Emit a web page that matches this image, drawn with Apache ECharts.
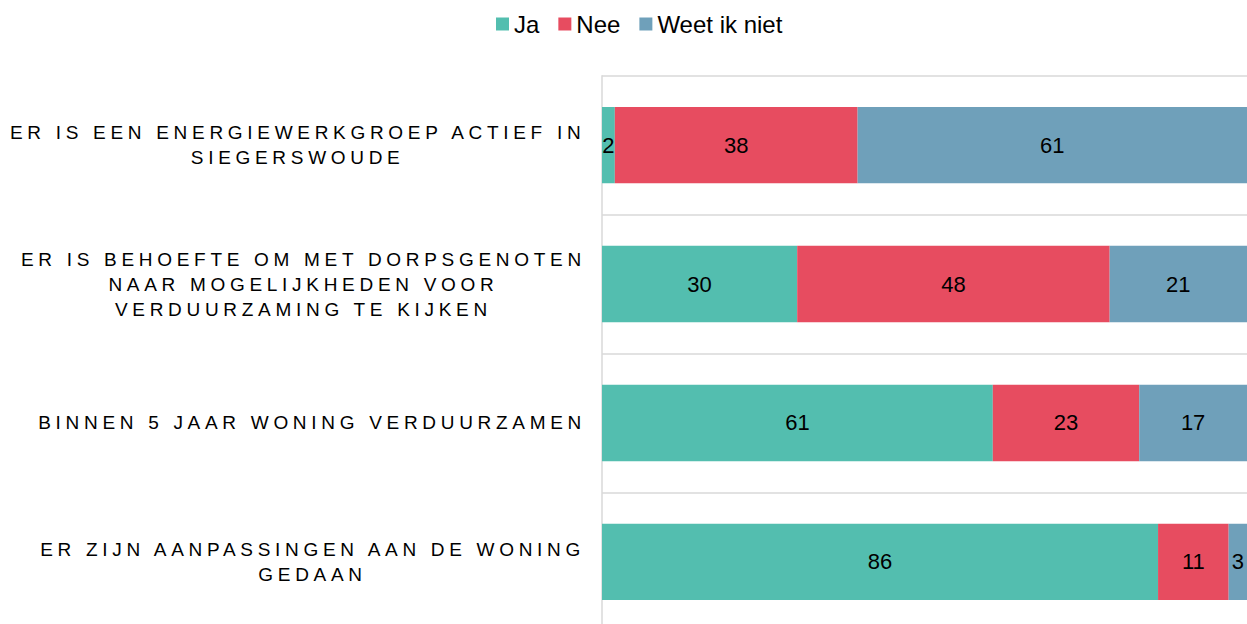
<!DOCTYPE html>
<html>
<head>
<meta charset="utf-8">
<script src="https://cdn.jsdelivr.net/npm/echarts@6/dist/echarts.min.js"></script>
<style>
html,body{margin:0;padding:0;background:#fff;overflow:hidden;}
#chart{width:1247px;height:640px;}
</style>
</head>
<body>
<div id="chart"></div>
<script>
var categories = [
  'ER IS EEN ENERGIEWERKGROEP ACTIEF IN\nSIEGERSWOUDE',
  'ER IS BEHOEFTE OM MET DORPSGENOTEN\nNAAR MOGELIJKHEDEN VOOR\nVERDUURZAMING TE KIJKEN',
  'BINNEN 5 JAAR WONING VERDUURZAMEN',
  'ER ZIJN AANPASSINGEN AAN DE WONING\nGEDAAN'
];
var seriesNames = ['Ja', 'Nee', 'Weet ik niet'];
var jaValues = [1.99, 30.26, 60.59, 86.21];
var neeValues = [37.64, 48.45, 22.7, 10.95];
var weetValues = [60.6, 21.29, 16.71, 2.84];
var xTickMax = 100;

var colors = ['#53BEAF', '#E74C60', '#6FA0BA'];
var FONT = "'Liberation Sans', Arial, sans-serif";
var CAT_FONT_SIZE = 19;
var CAT_SPACING = 4.7;

// make text measurement aware of the letter spacing used for category labels
var measureCtx = document.createElement('canvas').getContext('2d');
if (echarts.setPlatformAPI) {
  echarts.setPlatformAPI({
    measureText: function (text, font) {
      measureCtx.font = font || '12px sans-serif';
      var w = measureCtx.measureText(text || '').width;
      if (font && font.indexOf(CAT_FONT_SIZE + 'px') >= 0) {
        w += (text || '').length * CAT_SPACING;
      }
      return {width: w};
    }
  });
}

var chart = echarts.init(document.getElementById('chart'), null, {renderer: 'svg'});

function mkSeries(name, data, color) {
  return {
    name: name,
    type: 'bar',
    stack: 'total',
    data: data,
    barWidth: '55%',
    itemStyle: {color: color},
    label: {
      show: true,
      position: 'inside',
      color: '#000',
      fontFamily: FONT,
      fontSize: 22,
      formatter: function (p) { return Math.round(p.value); }
    },
    emphasis: {disabled: true}
  };
}

chart.setOption({
  animation: false,
  color: colors,
  legend: {
    top: 7,
    left: 491,
    itemWidth: 13,
    itemHeight: 13,
    itemGap: 19,
    icon: 'rect',
    textStyle: {fontFamily: FONT, fontSize: 24, color: '#000'},
    data: seriesNames
  },
  grid: {left: 602, right: 0, top: 75.7, height: 555.6, containLabel: false},
  xAxis: {
    type: 'value',
    min: 0,
    max: xTickMax,
    show: false
  },
  yAxis: {
    type: 'category',
    inverse: true,
    data: categories,
    axisLine: {show: true, lineStyle: {color: '#d9d9d9', width: 1.5}},
    axisTick: {show: false},
    splitLine: {show: true, lineStyle: {color: '#d9d9d9', width: 1.5}},
    axisLabel: {
      margin: 16,
      align: 'right',
      formatter: function (v) {
        return v.split('\n').map(function (l) { return '{c|' + l + '}'; }).join('\n');
      },
      rich: {
        c: {
          align: 'center',
          fontFamily: FONT,
          fontSize: CAT_FONT_SIZE,
          lineHeight: 25,
          color: '#000'
        }
      }
    }
  },
  series: [
    mkSeries(seriesNames[0], jaValues, colors[0]),
    mkSeries(seriesNames[1], neeValues, colors[1]),
    mkSeries(seriesNames[2], weetValues, colors[2])
  ]
});

function applySpacing() {
  var lines = {};
  categories.forEach(function (c) { c.split('\n').forEach(function (l) { lines[l] = true; }); });
  document.querySelectorAll('#chart svg text').forEach(function (t) {
    if (lines[t.textContent]) {
      t.style.letterSpacing = CAT_SPACING + 'px';
    }
  });
}
applySpacing();
chart.on('finished', applySpacing);
</script>
</body>
</html>
